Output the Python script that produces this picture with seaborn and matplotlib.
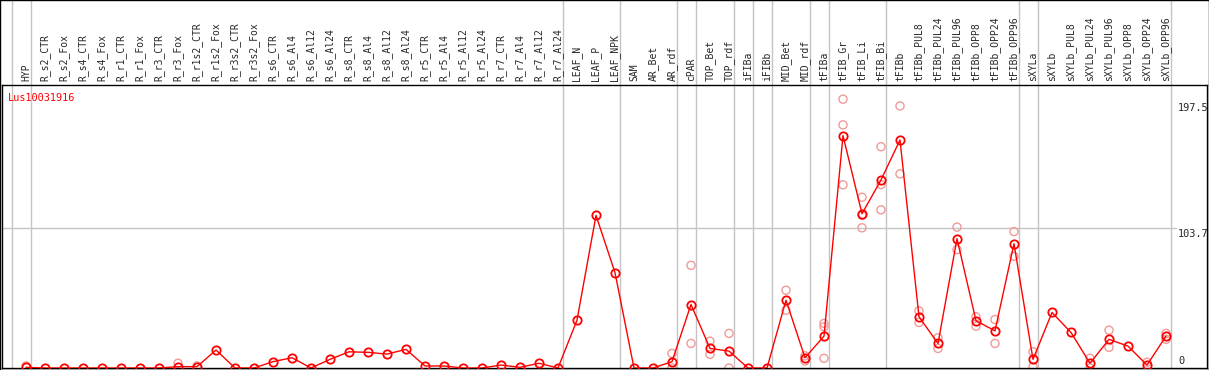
import matplotlib
matplotlib.use("Agg")
import matplotlib.pyplot as plt
import seaborn as sns
import pandas as pd
from matplotlib.patches import Rectangle

gene = "Lus10031916"

samples = [
    "HYP", "R_s2_CTR", "R_s2_Fox", "R_s4_CTR", "R_s4_Fox", "R_r1_CTR", "R_r1_Fox",
    "R_r3_CTR", "R_r3_Fox", "R_r1s2_CTR", "R_r1s2_Fox", "R_r3s2_CTR", "R_r3s2_Fox",
    "R_s6_CTR", "R_s6_Al4", "R_s6_Al12", "R_s6_Al24", "R_s8_CTR", "R_s8_Al4",
    "R_s8_Al12", "R_s8_Al24", "R_r5_CTR", "R_r5_Al4", "R_r5_Al12", "R_r5_Al24",
    "R_r7_CTR", "R_r7_Al4", "R_r7_Al12", "R_r7_Al24", "LEAF_N", "LEAF_P", "LEAF_NPK",
    "SAM", "AR_Bet", "AR_rdf", "cPAR", "TOP_Bet", "TOP_rdf", "iFIBa", "iFIBb",
    "MID_Bet", "MID_rdf", "tFIBa", "tFIB_Gr", "tFIB_Li", "tFIB_Bi", "tFIBb",
    "tFIBb_PUL8", "tFIBb_PUL24", "tFIBb_PUL96", "tFIBb_OPP8", "tFIBb_OPP24",
    "tFIBb_OPP96", "sXYLa", "sXYLb", "sXYLb_PUL8", "sXYLb_PUL24", "sXYLb_PUL96",
    "sXYLb_OPP8", "sXYLb_OPP24", "sXYLb_OPP96",
]

means = [
    0.5, 0, 0, 0, 0, 0, 0, 0, 1, 1, 13.3, 0, 0,
    4.7, 7.6, 0, 6.4, 12, 11.6, 10.3, 13.8, 1.5, 1.5, 0, 0,
    2.2, 0.5, 3.5, 0, 35.4, 113, 70.6,
    0, 0, 4.7, 47, 14.5, 12.5, 0, 0,
    50.2, 7.6, 23.6, 172, 114.2, 139.2, 168.8,
    37.9, 18.2, 95.7, 35, 27.5, 92,
    6.4, 41.1, 26.3, 3.5, 21.2, 16.2, 2.2, 23.6,
]

# individual replicates (long form)
rep_samples = [
    "HYP", "R_r3_Fox", "R_r1s2_CTR",
    "AR_rdf", "AR_rdf", "cPAR", "cPAR", "TOP_Bet", "TOP_Bet", "TOP_rdf", "TOP_rdf",
    "MID_Bet", "MID_Bet", "MID_rdf", "MID_rdf", "tFIBa", "tFIBa", "tFIBa",
    "tFIB_Gr", "tFIB_Gr", "tFIB_Gr", "tFIB_Li", "tFIB_Li", "tFIB_Li",
    "tFIB_Bi", "tFIB_Bi", "tFIB_Bi", "tFIBb", "tFIBb",
    "tFIBb_PUL8", "tFIBb_PUL8", "tFIBb_PUL24", "tFIBb_PUL24",
    "tFIBb_PUL96", "tFIBb_PUL96", "tFIBb_OPP8", "tFIBb_OPP8",
    "tFIBb_OPP24", "tFIBb_OPP24", "tFIBb_OPP96", "tFIBb_OPP96",
    "sXYLa", "sXYLa", "sXYLb_PUL24", "sXYLb_PUL24", "sXYLb_PUL96", "sXYLb_PUL96",
    "sXYLb_OPP24", "sXYLb_OPP96", "sXYLb_OPP96",
]
rep_values = [
    1.5, 3.5, 1.5,
    10.8, 0, 76, 18.2, 19.9, 10.1, 25.6, 0,
    57.6, 42.8, 9, 5.2, 33, 30.5, 7.2,
    199, 180, 135.6, 126.4, 103.8, 113,
    163.8, 135.8, 117.1, 194, 143.7,
    42.3, 33.7, 22.4, 14.5,
    104.3, 87.6, 37.9, 31,
    35.9, 18.2, 101, 82.7,
    12, 1, 7.2, 0, 28, 15.3,
    4.2, 25.6, 21.2,
]

# last sample index of each tissue group (-1 = left edge)
group_ends = [-1, 0, 28, 31, 34, 35, 37, 38, 39, 41, 42, 45, 52, 53, 60]
y_marks = [0, 103.7, 197.5]

sns.set_style("white")
plt.rcParams["font.family"] = ["DejaVu Sans Mono", "DejaVu Sans"]

W, H = 1209, 370
fig = plt.figure(figsize=(W / 100, H / 100), dpi=100)
ax = fig.add_axes([2 / W, (H - 368) / H, (1207 - 2) / W, (368 - 85) / H])

pos = {s: i for i, s in enumerate(samples)}
df_mean = pd.DataFrame({"x": range(len(samples)), "value": means})
df_rep = pd.DataFrame({"x": [pos[s] for s in rep_samples], "value": rep_values})

# gray separators (run through the header too)
for g in group_ends:
    ax.axvline(g + 0.24, ymin=0, ymax=368 / 283, color="#c4c4c4", lw=1,
               clip_on=False, zorder=0)
ax.axhline(y_marks[1], xmin=0, xmax=(1176 - 2) / 1205, color="#c4c4c4", lw=1, zorder=0)

sns.scatterplot(data=df_rep, x="x", y="value", ax=ax, marker="o", s=34,
                facecolor="none", edgecolor="#f09a9a", linewidth=1.0, zorder=2)
sns.lineplot(data=df_mean, x="x", y="value", ax=ax, color="red", lw=1,
             marker="o", markersize=6, markerfacecolor="none",
             markeredgecolor="red", markeredgewidth=1.3, zorder=3)

ax.set_xlim((2 - 26) / 19, (1207 - 26) / 19)
ax.set_ylim(0, 209.5)
ax.xaxis.tick_top()
ax.set_xticks(range(len(samples)))
ax.set_xticklabels(samples, rotation=90, fontsize=7)
ax.tick_params(axis="x", length=0, pad=3)
ax.set_yticks([])
ax.set_xlabel("")
ax.set_ylabel("")
for sp in ax.spines.values():
    sp.set_color("black")
    sp.set_linewidth(1.0)

# value labels at the right
lx = (1178 - 26) / 19
ax.text(lx, y_marks[2] - 1, f"{y_marks[2]}", fontsize=7.4, va="top", ha="left")
ax.text(lx, y_marks[1] - 1, f"{y_marks[1]}", fontsize=7.4, va="top", ha="left")
ax.text(lx, y_marks[0] + 1.5, f"{y_marks[0]}", fontsize=7.4, va="bottom", ha="left")

ax.text(6 / 1205, (368 - 98) / 283, gene, transform=ax.transAxes, color="red",
        fontsize=7.4, va="center", ha="left")

fig.patches.append(Rectangle((0, 0), 1, 1, transform=fig.transFigure, fill=False,
                             edgecolor="black", lw=1.0))

plt.savefig("out.png", dpi=100)
plt.close()
